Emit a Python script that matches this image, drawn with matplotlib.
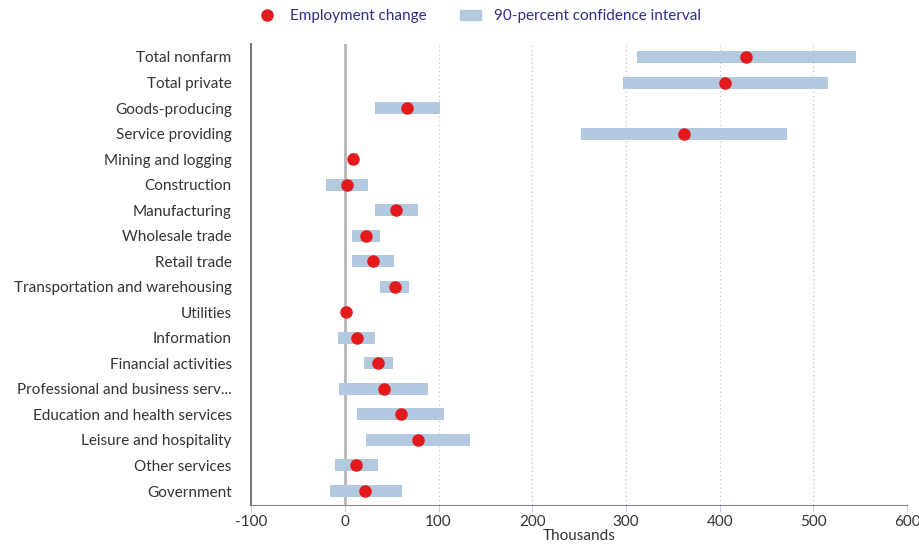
import numpy as np
import matplotlib.pyplot as plt
from matplotlib.lines import Line2D
from matplotlib.patches import Patch

plt.rcParams['font.family'] = ['Lato', 'DejaVu Sans']
plt.rcParams['axes.unicode_minus'] = False

industries = ['Total nonfarm', 'Total private', 'Goods-producing', 'Service providing',
              'Mining and logging', 'Construction', 'Manufacturing', 'Wholesale trade',
              'Retail trade', 'Transportation and warehousing', 'Utilities', 'Information',
              'Financial activities', 'Professional and business serv...',
              'Education and health services', 'Leisure and hospitality',
              'Other services', 'Government']
change = [428, 406, 66, 362, 9, 2.5, 55, 23, 30, 53, 1, 13, 35.5, 42, 60, 78, 12, 22]
ci_low = [312, 297, 32, 252, 5, -20, 32, 8, 8, 37, -1, -7, 20, -6, 13, 23, -11, -16]
ci_high = [545, 516, 101, 472, 14, 25, 78, 38, 52, 68, 3, 32, 51, 89, 106, 134, 35, 61]

bar_color = '#b3c9e0'
dot_color = '#e31a1c'
text_color = '#333333'

fig = plt.figure(figsize=(9.2, 5.46), dpi=100)
ax = fig.add_axes([0.273, 0.075, 0.713, 0.844])

y = np.arange(len(industries))
low = np.array(ci_low)
high = np.array(ci_high)
ax.barh(y, high - low, left=low, height=0.47, color=bar_color, zorder=2)
ax.plot(change, y, 'o', color=dot_color, markersize=8, zorder=3)

ax.axvline(0, color='#b5b5b5', lw=2, zorder=1)
for gx in range(100, 601, 100):
    ax.axvline(gx, color='#cccccc', lw=1, ls=(0, (1, 2)), zorder=0)

ax.set_xlim(-100, 600)
ax.set_ylim(len(industries) - 0.45, -0.5)
ax.set_xticks(range(-100, 601, 100))
ax.set_yticks(y)
ax.set_yticklabels(industries)
ax.tick_params(axis='y', length=0, pad=14, labelsize=11, labelcolor=text_color)
ax.tick_params(axis='x', length=5, pad=2, color='#c5d3e8', labelsize=11, labelcolor=text_color)
ax.set_xlabel('Thousands', fontsize=11, color=text_color, labelpad=0)

for side in ['top', 'right']:
    ax.spines[side].set_visible(False)
ax.spines['left'].set_color('#777777')
ax.spines['left'].set_linewidth(1.5)
ax.spines['bottom'].set_color('#888888')

handles = [Line2D([], [], marker='o', ls='', color=dot_color, markersize=8),
           Patch(color=bar_color)]
leg = fig.legend(handles, ['Employment change', '90-percent confidence interval'],
                 loc='center', bbox_to_anchor=(0.52, 0.97), ncol=2, frameon=False,
                 fontsize=11, columnspacing=2.2, handlelength=1.4)
for t in leg.get_texts():
    t.set_color('#2e2e8a')

fig.savefig('out.png', dpi=100)
